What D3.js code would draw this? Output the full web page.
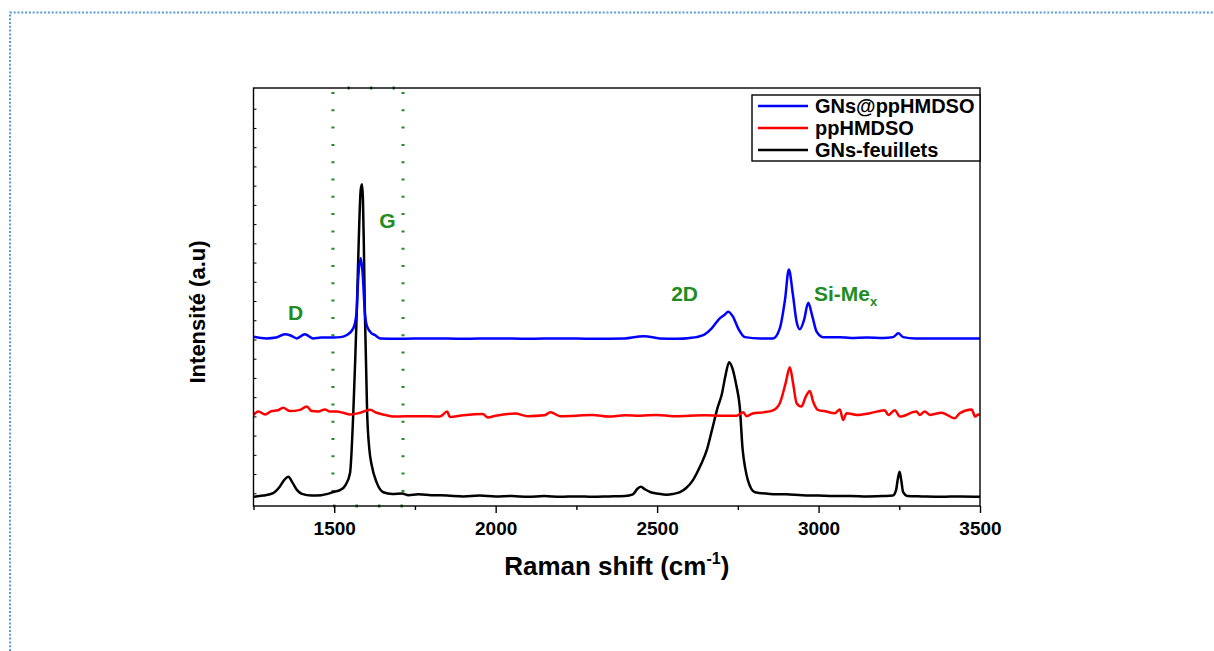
<!DOCTYPE html>
<html>
<head>
<meta charset="utf-8">
<script src="https://cdn.jsdelivr.net/npm/d3@7"></script>
<style>
  body { margin: 0; background: #fff; }
  text { font-family: "Liberation Sans", Arial, sans-serif; font-weight: bold; }
</style>
</head>
<body>
<div id="chart"></div>
<script>
// Raman shift (cm-1), intensity (a.u, stacked as drawn)
var gnsFeuillets = [
  [1250, 2.2], [1280, 2.5], [1311, 3.1], [1330, 4.5], [1345, 6.2], [1358, 7.0], [1370, 5.7], [1385, 3.8],
  [1400, 2.9], [1430, 2.5], [1460, 2.6], [1480, 2.9], [1500, 3.4], [1518, 3.8], [1535, 5.0], [1549, 7.9],
  [1559, 22.2], [1565, 34.9], [1570, 46.9], [1576, 63.6], [1582, 75.6], [1586, 77.0], [1589, 73.2],
  [1592, 61.2], [1595, 46.2], [1602, 22.2], [1609, 13.4], [1616, 9.8], [1631, 5.7], [1652, 3.3],
  [1680, 2.9], [1710, 3.0], [1730, 2.6], [1760, 2.8], [1800, 2.6], [1850, 2.5], [1900, 2.3], [1950, 2.5],
  [2000, 2.3], [2050, 2.4], [2100, 2.2], [2150, 2.4], [2200, 2.2], [2250, 2.3], [2300, 2.2], [2350, 2.3],
  [2400, 2.4], [2425, 2.8], [2440, 4.2], [2450, 4.6], [2462, 4.0], [2480, 3.3], [2500, 3.0], [2530, 2.7],
  [2550, 2.9], [2571, 3.3], [2590, 4.3], [2611, 6.2], [2635, 9.8], [2654, 13.4], [2670, 18.2],
  [2688, 23.7], [2700, 26.6], [2712, 31.3], [2723, 34.4], [2733, 33.0], [2745, 29.0], [2756, 23.7],
  [2765, 13.4], [2773, 9.0], [2781, 6.2], [2803, 3.3], [2850, 2.9], [2900, 2.8], [2950, 2.6], [3000, 2.5],
  [3050, 2.4], [3100, 2.4], [3150, 2.3], [3200, 2.4], [3230, 2.5], [3240, 3.8], [3246, 6.7], [3251, 8.2],
  [3256, 6.2], [3262, 3.3], [3275, 2.4], [3320, 2.3], [3380, 2.2], [3440, 2.3], [3500, 2.2]
];
var ppHMDSO = [
  [1250, 21.8], [1265, 22.6], [1286, 21.9], [1306, 22.7], [1325, 22.9], [1342, 23.5], [1363, 22.7],
  [1394, 23.0], [1415, 23.8], [1430, 22.7], [1451, 22.6], [1471, 23.1], [1487, 22.6], [1508, 22.6],
  [1528, 22.3], [1549, 21.9], [1580, 22.3], [1611, 23.0], [1631, 22.3], [1657, 21.8], [1683, 21.4],
  [1760, 21.5], [1827, 21.4], [1850, 22.6], [1858, 21.3], [1900, 21.7], [1960, 22.0], [1975, 21.2],
  [2000, 21.6], [2060, 22.1], [2100, 21.5], [2150, 21.7], [2170, 22.4], [2200, 21.5], [2250, 21.6],
  [2300, 21.8], [2350, 21.4], [2400, 21.7], [2447, 21.6], [2500, 21.8], [2550, 21.5], [2601, 21.6],
  [2650, 21.7], [2700, 21.6], [2746, 21.6], [2767, 22.4], [2777, 21.5], [2798, 22.2], [2829, 22.4],
  [2859, 22.9], [2880, 24.6], [2898, 29.4], [2911, 33.2], [2921, 29.4], [2932, 24.6], [2947, 23.8],
  [2960, 26.1], [2973, 27.5], [2983, 25.0], [2998, 23.0], [3024, 22.6], [3050, 22.2], [3066, 23.1],
  [3076, 20.6], [3087, 22.2], [3118, 21.8], [3159, 22.2], [3205, 22.9], [3216, 21.8], [3236, 22.9],
  [3252, 21.4], [3303, 22.6], [3314, 21.8], [3329, 22.6], [3345, 21.8], [3381, 22.3], [3422, 21.0],
  [3437, 22.2], [3474, 23.1], [3485, 21.4], [3495, 21.9], [3500, 21.8]
];
var gnsAtPpHMDSO = [
  [1250, 40.5], [1290, 40.1], [1320, 40.3], [1347, 41.1], [1365, 40.8], [1384, 40.1], [1409, 41.1],
  [1434, 40.1], [1460, 40.3], [1496, 40.3], [1520, 40.4], [1539, 40.9], [1559, 42.5], [1569, 46.1],
  [1574, 54.1], [1582, 59.3], [1588, 55.7], [1595, 46.1], [1602, 42.9], [1616, 41.3], [1626, 40.9],
  [1642, 40.1], [1700, 40.0], [1800, 40.1], [1900, 40.0], [2000, 40.1], [2100, 40.0], [2200, 40.1],
  [2300, 40.0], [2400, 40.1], [2440, 40.5], [2460, 40.6], [2508, 40.1], [2560, 40.0], [2601, 40.2],
  [2643, 40.9], [2669, 42.5], [2694, 44.9], [2710, 45.8], [2720, 46.5], [2735, 45.3], [2751, 42.5],
  [2772, 40.4], [2820, 40.1], [2859, 40.1], [2880, 42.5], [2896, 49.3], [2908, 56.6], [2920, 50.9],
  [2932, 44.1], [2942, 42.3], [2955, 44.5], [2968, 48.6], [2981, 45.3], [2994, 41.7], [3014, 40.4],
  [3066, 40.4], [3100, 40.2], [3150, 40.3], [3200, 40.2], [3231, 40.4], [3247, 41.3], [3262, 40.4],
  [3300, 40.1], [3400, 40.1], [3500, 40.1]
];
var seriesNames = ['GNs@ppHMDSO', 'ppHMDSO', 'GNs-feuillets'];
var seriesColors = ['#0000ff', '#ff0000', '#000000'];
var xMajorTicks = [1500, 2000, 2500, 3000, 3500];
var xMinorTicks = [1250, 1750, 2250, 2750, 3250];
var bandLabels = [
  { text: 'D', x: 1380, y: 44.5 },
  { text: 'G', x: 1665, y: 66.5 },
  { text: '2D', x: 2585, y: 49.0 },
  { text: 'Si-Me', sub: 'x', x: 2995, y: 49.0 }
];
var bandRange = [1496, 1713];

var margin = { top: 88, right: 234, bottom: 145, left: 253.5 };
var totalW = 1214, totalH = 651;
var width = totalW - margin.left - margin.right;
var height = totalH - margin.top - margin.bottom;
var green = '#228b22';

var root = d3.select('#chart').append('svg')
  .attr('width', totalW)
  .attr('height', totalH);

// dotted page frame
root.append('path')
  .attr('d', 'M10,651 L10,12.5 L1214,12.5')
  .attr('fill', 'none')
  .attr('stroke', '#5b9bd5')
  .attr('stroke-width', 2)
  .attr('stroke-dasharray', '2,1.8');

var svg = root.append('g')
  .attr('transform', 'translate(' + margin.left + ',' + margin.top + ')');

var x = d3.scaleLinear().domain([1250, 3500]).range([0, width]);
var y = d3.scaleLinear().domain([0, 100]).range([height, 0]);

svg.append('clipPath').attr('id', 'plot-clip')
  .append('rect').attr('width', width).attr('height', height);

// band markers (dotted green box around the G region)
var bx0 = x(bandRange[0]), bx1 = x(bandRange[1]);
[bx0, bx1].forEach(function (bx) {
  svg.append('line')
    .attr('x1', bx).attr('y1', 0).attr('x2', bx).attr('y2', height)
    .attr('stroke', green).attr('stroke-width', 3)
    .attr('stroke-dasharray', '2,15.3')
    .attr('stroke-dashoffset', -4);
});
[0, height].forEach(function (by) {
  svg.append('line')
    .attr('x1', bx0).attr('y1', by).attr('x2', bx1).attr('y2', by)
    .attr('stroke', green).attr('stroke-width', 3)
    .attr('stroke-dasharray', '2.5,20')
    .attr('stroke-dashoffset', by === 0 ? -14.5 : 0);
});

var line = d3.line()
  .x(function (d) { return x(d[0]); })
  .y(function (d) { return y(d[1]); })
  .curve(d3.curveMonotoneX);

var series = [gnsAtPpHMDSO, ppHMDSO, gnsFeuillets];
var plot = svg.append('g').attr('clip-path', 'url(#plot-clip)');
[2, 1, 0].forEach(function (i) {
  plot.append('path')
    .datum(series[i])
    .attr('d', line)
    .attr('fill', 'none')
    .attr('stroke', seriesColors[i])
    .attr('stroke-width', 2.5)
    .attr('stroke-linejoin', 'round');
});

// frame
svg.append('rect')
  .attr('width', width).attr('height', height)
  .attr('fill', 'none').attr('stroke', '#000').attr('stroke-width', 1.4);

// x axis
var xAxis = svg.append('g')
  .attr('transform', 'translate(0,' + height + ')')
  .call(d3.axisBottom(x).tickValues(xMajorTicks).tickSize(7).tickPadding(9).tickFormat(d3.format('d')));
xAxis.select('.domain').remove();
xAxis.selectAll('line').attr('stroke-width', 1.4);
xAxis.selectAll('text')
  .attr('font-size', '19px')
  .attr('fill', '#000')
  .style('font-family', '"Liberation Sans", Arial, sans-serif');

var xMinor = svg.append('g')
  .attr('transform', 'translate(0,' + height + ')')
  .call(d3.axisBottom(x).tickValues(xMinorTicks).tickSize(4).tickFormat(''));
xMinor.select('.domain').remove();
xMinor.selectAll('line').attr('stroke-width', 1.4);

// y axis: unlabelled inner ticks
var yTicks = d3.range(0, 21).map(function (i) { return 3.04 + i * 4.6; });
var yAxis = svg.append('g')
  .call(d3.axisLeft(y).tickValues(yTicks).tickSize(-3).tickFormat(''));
yAxis.select('.domain').remove();

// axis titles
var xTitle = svg.append('text')
  .attr('x', width / 2)
  .attr('y', height + 69)
  .attr('text-anchor', 'middle')
  .attr('font-size', '26px');
xTitle.append('tspan').text('Raman shift (cm');
xTitle.append('tspan').text('-1').attr('font-size', '16px').attr('dy', '-11');
xTitle.append('tspan').text(')').attr('dy', '11');

svg.append('text')
  .text('Intensité (a.u)')
  .attr('transform', 'rotate(-90)')
  .attr('x', -(312 - margin.top))
  .attr('y', 205 - margin.left)
  .attr('text-anchor', 'middle')
  .attr('font-size', '22px');

// band labels
bandLabels.forEach(function (b) {
  var t = svg.append('text')
    .attr('x', x(b.x)).attr('y', y(b.y))
    .attr('text-anchor', 'middle')
    .attr('font-size', '21px')
    .attr('fill', green)
    .text(b.text);
  if (b.sub) {
    t.attr('text-anchor', 'start').attr('x', 814 - margin.left);
    t.append('tspan').text(b.sub).attr('font-size', '13px').attr('dy', '5');
  }
});

// legend
var lg = svg.append('g').attr('transform', 'translate(' + (752 - margin.left) + ',' + (95 - margin.top) + ')');
lg.append('rect')
  .attr('width', width - (752 - margin.left))
  .attr('height', 66)
  .attr('fill', '#fff')
  .attr('stroke', '#000')
  .attr('stroke-width', 1.4);
seriesNames.forEach(function (name, i) {
  var yy = 11 + i * 22;
  lg.append('line')
    .attr('x1', 6).attr('x2', 56).attr('y1', yy).attr('y2', yy)
    .attr('stroke', seriesColors[i]).attr('stroke-width', 2.5);
  lg.append('text')
    .attr('x', 63).attr('y', yy + 7)
    .attr('font-size', '20px')
    .text(name);
});
</script>
</body>
</html>
